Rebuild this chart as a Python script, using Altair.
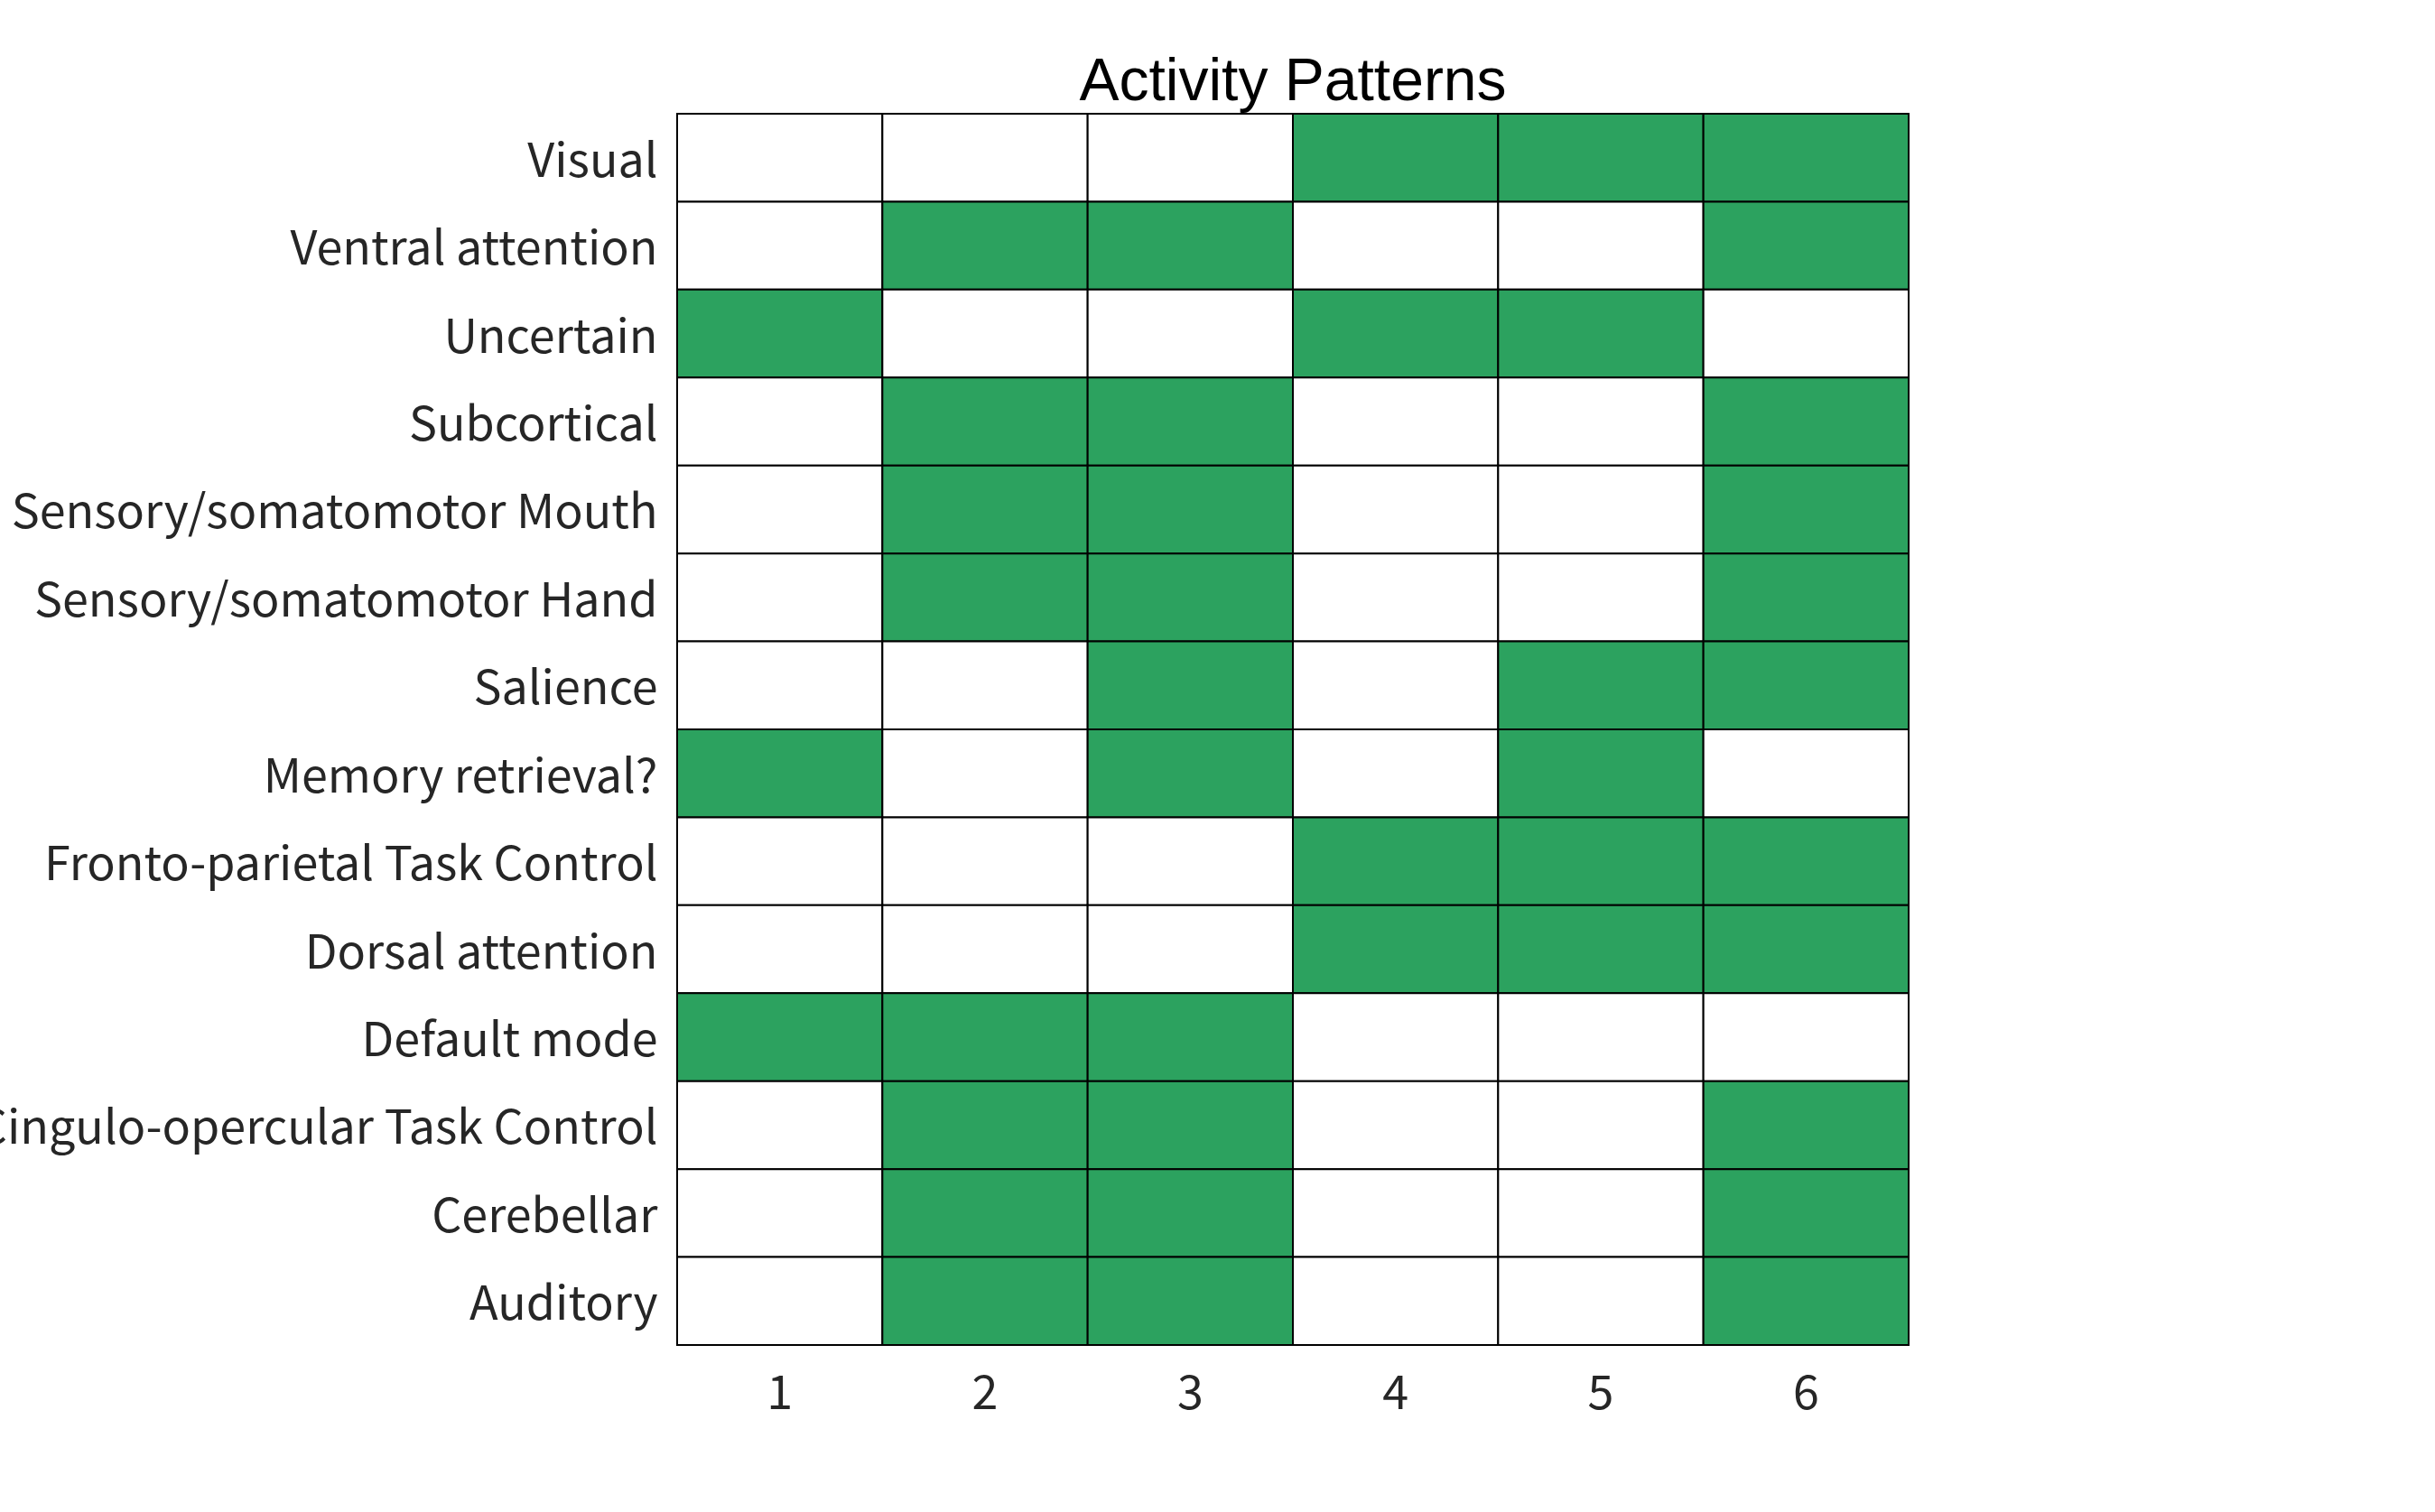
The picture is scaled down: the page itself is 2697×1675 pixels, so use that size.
import altair as alt
import pandas as pd

networks = [
    "Visual",
    "Ventral attention",
    "Uncertain",
    "Subcortical",
    "Sensory/somatomotor Mouth",
    "Sensory/somatomotor Hand",
    "Salience",
    "Memory retrieval?",
    "Fronto-parietal Task Control",
    "Dorsal attention",
    "Default mode",
    "Cingulo-opercular Task Control",
    "Cerebellar",
    "Auditory",
]
patterns = ["1", "2", "3", "4", "5", "6"]
activity = [
    [0, 0, 0, 1, 1, 1],
    [0, 1, 1, 0, 0, 1],
    [1, 0, 0, 1, 1, 0],
    [0, 1, 1, 0, 0, 1],
    [0, 1, 1, 0, 0, 1],
    [0, 1, 1, 0, 0, 1],
    [0, 0, 1, 0, 1, 1],
    [1, 0, 1, 0, 1, 0],
    [0, 0, 0, 1, 1, 1],
    [0, 0, 0, 1, 1, 1],
    [1, 1, 1, 0, 0, 0],
    [0, 1, 1, 0, 0, 1],
    [0, 1, 1, 0, 0, 1],
    [0, 1, 1, 0, 0, 1],
]

rows = []
for i, net in enumerate(networks):
    for j, p in enumerate(patterns):
        rows.append({"network": net, "pattern": p, "active": activity[i][j]})
df = pd.DataFrame(rows)

label_font = "Noto Sans CJK JP"

chart = (
    alt.Chart(df)
    .mark_rect(stroke="black", strokeWidth=2)
    .encode(
        x=alt.X(
            "pattern:O",
            sort=patterns,
            scale=alt.Scale(paddingInner=0, paddingOuter=0),
            axis=alt.Axis(
                title=None, labelAngle=0, ticks=False, domain=False,
                labelFont=label_font, labelFontSize=52, labelColor="#262626",
                labelPadding=29,
            ),
        ),
        y=alt.Y(
            "network:N",
            sort=networks,
            scale=alt.Scale(paddingInner=0, paddingOuter=0),
            axis=alt.Axis(
                title=None, ticks=False, domain=False,
                labelFont=label_font, labelFontSize=52, labelColor="#262626",
                labelPadding=22, labelLimit=2000, labelOffset=5,
            ),
        ),
        color=alt.Color(
            "active:N",
            scale=alt.Scale(domain=[0, 1], range=["#ffffff", "#2ca25f"]),
            legend=None,
        ),
    )
    .properties(
        width=1364,
        height=1364,
        title=alt.TitleParams(
            "Activity Patterns", font="Liberation Sans", fontSize=66,
            fontWeight="normal", color="black", anchor="middle", offset=0,
        ),
        autosize=alt.AutoSizeParams(type="none"),
        padding={"left": 750, "top": 126, "right": 583, "bottom": 185},
    )
    .configure_view(stroke="black", strokeWidth=3)
    .configure(background="white")
)

chart.save("out.html", embed_options={"renderer": "svg", "actions": False})
